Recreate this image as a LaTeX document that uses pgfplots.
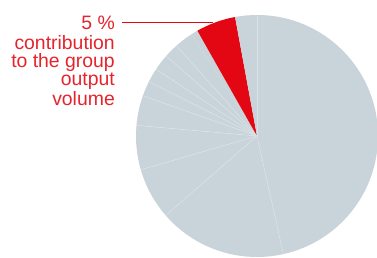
\documentclass[border=0pt]{standalone}
\usepackage{fontspec}
\setmainfont{Liberation Sans}
\usepackage{pgfplots}
\pgfplotsset{compat=1.18}
\definecolor{pieg}{HTML}{C8D3DA}
\definecolor{piered}{HTML}{E30613}
\definecolor{sep}{HTML}{DAE2E7}
\definecolor{txtred}{HTML}{E6232D}
\begin{document}
\begin{tikzpicture}
\begin{axis}[
  hide axis, clip=false,
  x=121bp, y=121bp,
  xmin=-1, xmax=1, ymin=-1, ymax=1,
  anchor=origin, at={(257bp,122bp)},
]
\gdef\cum{0}
% shares in percent, clockwise from 12 o'clock
\foreach \v/\c in {46.5/pieg, 17.1/pieg, 6.9/pieg, 5.9/pieg, 4.0/pieg, 2.0/pieg, 1.9/pieg, 2.2/pieg, 1.9/pieg, 2.5/pieg, 0.9/pieg, 5.3/piered, 2.9/pieg} {
  \pgfmathsetmacro{\a}{90-\cum*3.6}
  \pgfmathsetmacro{\b}{90-(\cum+\v)*3.6}
  \pgfmathsetmacro{\xa}{cos(\a)}
  \pgfmathsetmacro{\ya}{sin(\a)}
  \edef\tmp{\noexpand\fill[\c] (axis cs:0,0) -- (axis cs:\xa,\ya) arc[start angle=\a, end angle=\b, radius=121bp] -- cycle;}
  \tmp
  \pgfmathsetmacro{\newcum}{\cum+\v}
  \xdef\cum{\newcum}
}
\gdef\cum{0}
\foreach \v/\c in {46.5/pieg, 17.1/pieg, 6.9/pieg, 5.9/pieg, 4.0/pieg, 2.0/pieg, 1.9/pieg, 2.2/pieg, 1.9/pieg, 2.5/pieg, 0.9/pieg, 5.3/piered, 2.9/pieg} {
  \pgfmathsetmacro{\a}{90-\cum*3.6}
  \pgfmathsetmacro{\xa}{0.995*cos(\a)}
  \pgfmathsetmacro{\ya}{0.995*sin(\a)}
  \edef\tmp{\noexpand\draw[sep, line width=0.55bp] (axis cs:0,0) -- (axis cs:\xa,\ya);}
  \ifdim\cum pt>90pt\relax\else\tmp\fi
  \pgfmathsetmacro{\newcum}{\cum+\v}
  \xdef\cum{\newcum}
}
\end{axis}
\draw[draw=piered, line width=1bp] (122bp,235.5bp) -- (213bp,235.5bp);
\begin{scope}[every node/.style={anchor=base east, inner sep=0pt, text=txtred, font=\fontsize{19.4bp}{19bp}\selectfont}]
\node at (115bp,228bp) {5 \%};
\node at (115bp,208bp) {contribution};
\node at (115bp,190bp) {to the group};
\node at (115bp,172bp) {output};
\node at (115bp,152bp) {volume};
\end{scope}
\pgfresetboundingbox
\path[use as bounding box] (0,0) rectangle (377bp,258bp);
\end{tikzpicture}
\end{document}
